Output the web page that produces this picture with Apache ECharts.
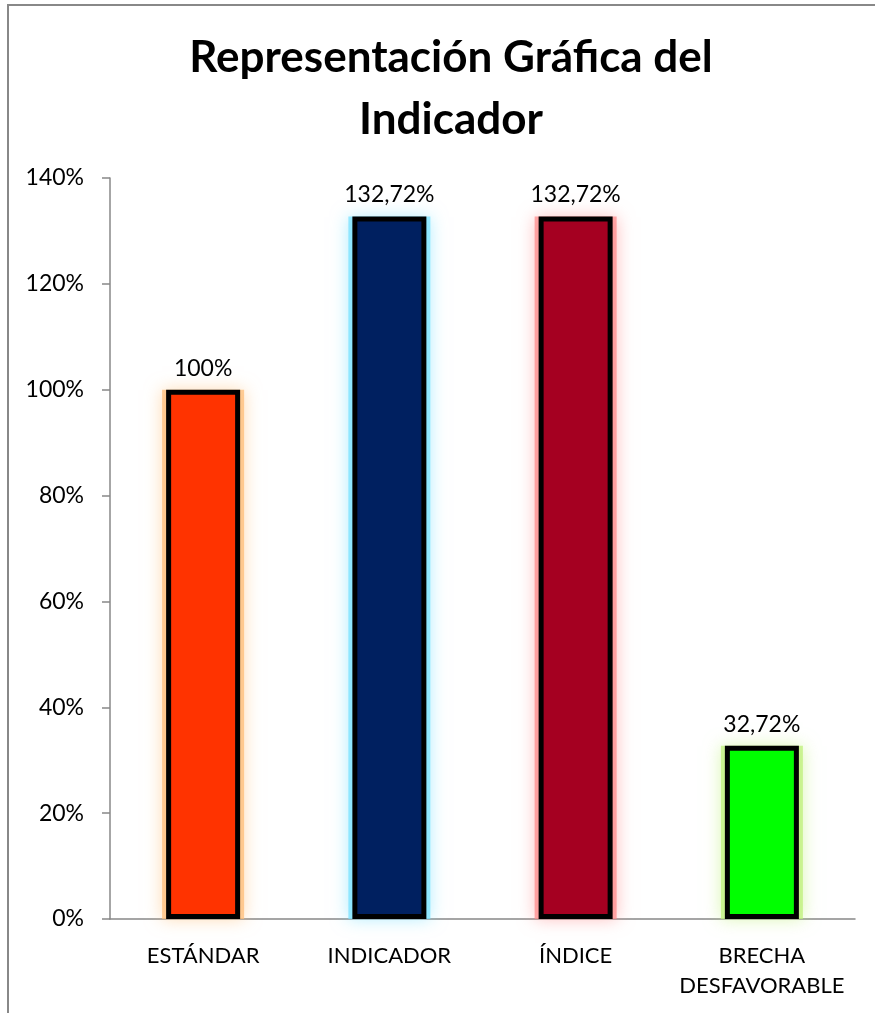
<!DOCTYPE html>
<html>
<head>
<meta charset="utf-8">
<script src="https://cdn.jsdelivr.net/npm/echarts@6/dist/echarts.min.js"></script>
<style>
  html, body { margin: 0; padding: 0; background: #fff; overflow: hidden; }
  #chart { width: 875px; height: 1013px; }
</style>
</head>
<body>
<div id="chart"></div>
<script>
// datos del indicador
const categorias = ['ESTÁNDAR', 'INDICADOR', 'ÍNDICE', 'BRECHA\nDESFAVORABLE']
const valores = [100, 132.72, 132.72, 32.72]
const etiquetas = ['100%', '132,72%', '132,72%', '32,72%']
const colores = ['#FF3300', '#002060', '#A50021', '#00FF00']
const brillos = ['rgba(255,190,120,0.75)', 'rgba(120,225,255,0.75)', 'rgba(255,140,140,0.75)', 'rgba(190,240,120,0.75)']
const ticksY = [0, 20, 40, 60, 80, 100, 120, 140]

const fuente = 'Lato, "Open Sans", sans-serif'

const chart = echarts.init(document.getElementById('chart'))

chart.setOption({
  animation: false,
  title: {
    text: 'Representación Gráfica del\nIndicador',
    left: 446,
    textAlign: 'center',
    top: 22,
    textStyle: {
      fontFamily: fuente,
      fontSize: 44,
      fontWeight: 'bold',
      color: '#000',
      lineHeight: 62
    }
  },
  graphic: [
    {
      type: 'rect',
      shape: { x: 8, y: 5, width: 950, height: 1100 },
      style: { fill: 'none', stroke: '#888', lineWidth: 2 },
      silent: true
    }
  ],
  grid: { left: 110, right: 20, top: 178, bottom: 94 },
  xAxis: [
    {
      type: 'category',
      data: categorias,
      axisLine: { lineStyle: { color: '#888', width: 1.5 } },
      axisTick: { show: false },
      axisLabel: {
        interval: 0,
        color: '#000',
        fontFamily: fuente,
        fontSize: 22,
        lineHeight: 30,
        margin: 22
      }
    },
    // eje oculto para el resplandor, así queda centrado
    {
      type: 'category',
      data: categorias,
      show: false
    }
  ],
  yAxis: {
    type: 'value',
    min: ticksY[0],
    max: ticksY[ticksY.length - 1],
    interval: 20,
    axisLine: { show: true, lineStyle: { color: '#888', width: 1.5 } },
    axisTick: { show: true, inside: false, length: 8, lineStyle: { color: '#888', width: 1.5 } },
    splitLine: { show: false },
    axisLabel: {
      color: '#000',
      fontFamily: fuente,
      fontSize: 23,
      margin: 26,
      formatter: v => v + '%'
    }
  },
  series: [
    // resplandor detrás de cada barra
    {
      type: 'bar',
      xAxisIndex: 1,
      barWidth: 82,
      silent: true,
      z: 1,
      data: valores.map((v, i) => ({
        value: v,
        itemStyle: {
          color: brillos[i],
          shadowColor: brillos[i],
          shadowBlur: 16
        }
      }))
    },
    // barra principal con borde negro
    {
      type: 'bar',
      xAxisIndex: 0,
      barWidth: 74,
      z: 2,
      data: valores.map((v, i) => ({
        value: v,
        itemStyle: {
          color: colores[i],
          borderColor: '#000',
          borderWidth: 5
        }
      })),
      label: {
        show: true,
        position: 'top',
        distance: 10,
        color: '#000',
        fontFamily: fuente,
        fontSize: 23,
        formatter: p => etiquetas[p.dataIndex]
      }
    }
  ]
})
</script>
</body>
</html>
